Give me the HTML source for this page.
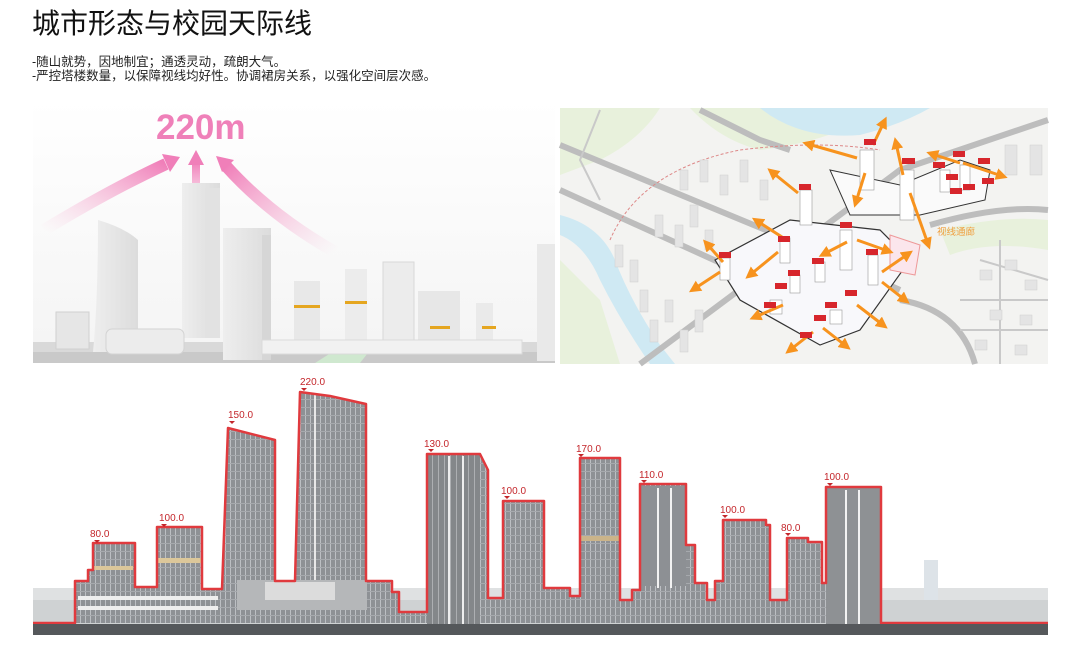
<!DOCTYPE html>
<html><head><meta charset="utf-8">
<style>
html,body{margin:0;padding:0;background:#fff;}
body{width:1080px;height:652px;overflow:hidden;position:relative;font-family:"Liberation Sans","Noto Sans CJK SC",sans-serif;}
.t{position:absolute;left:32px;top:2px;font-size:28px;color:#111;}
.s{position:absolute;left:32px;font-size:12.5px;color:#222;}
</style></head><body>
<div class="t">城市形态与校园天际线</div>
<div class="s" style="top:51px">-随山就势，因地制宜；通透灵动，疏朗大气。</div>
<div class="s" style="top:65px">-严控塔楼数量，以保障视线均好性。协调裙房关系，以强化空间层次感。</div>

<svg width="1080" height="652" style="position:absolute;left:0;top:0" xmlns="http://www.w3.org/2000/svg">
<defs>
<linearGradient id="sky" x1="0" y1="0" x2="0" y2="1"><stop offset="0" stop-color="#fff"/><stop offset="1" stop-color="#f4f4f4"/></linearGradient>
<linearGradient id="pa" x1="0" y1="1" x2="1" y2="0"><stop offset="0" stop-color="#f7b8d6" stop-opacity="0"/><stop offset="1" stop-color="#f07fb9"/></linearGradient>
<linearGradient id="pb" x1="0" y1="1" x2="0" y2="0"><stop offset="0" stop-color="#f7b8d6" stop-opacity="0"/><stop offset="1" stop-color="#f07fb9"/></linearGradient>
<linearGradient id="pc" x1="1" y1="1" x2="0" y2="0"><stop offset="0" stop-color="#f7b8d6" stop-opacity="0"/><stop offset="1" stop-color="#f07fb9"/></linearGradient>
<linearGradient id="bw" x1="0" y1="0" x2="1" y2="0"><stop offset="0" stop-color="#eeeeee"/><stop offset="1" stop-color="#dcdcdc"/></linearGradient>
<pattern id="fac" width="5" height="8" patternUnits="userSpaceOnUse"><rect width="5" height="8" fill="#8e9195"/><rect x="0" width="1" height="8" fill="#bcbfc3"/><rect y="7" width="5" height="1" fill="#a6a9ad"/></pattern>
<pattern id="fac2" width="6" height="10" patternUnits="userSpaceOnUse"><rect width="6" height="10" fill="#84878a"/><rect x="0" width="1" height="10" fill="#adafb2"/></pattern>
<marker id="ar" markerWidth="4" markerHeight="4" refX="2" refY="2" orient="auto"><path d="M0,0 L4,2 L0,4 z" fill="#f7931e"/></marker>
</defs>

<!-- top-left render -->
<rect x="33" y="100" width="522" height="263" fill="url(#sky)"/>
<rect x="33" y="342" width="522" height="21" fill="#d9d9d9"/>
<rect x="33" y="352" width="522" height="11" fill="#c9c9c9"/>
<path d="M315,363 L345,344 L375,344 L360,363 z" fill="#cfe8cf"/>
<path d="M44,230 Q110,190 166,164" stroke="url(#pa)" stroke-width="12" fill="none"/>
<path d="M162,154 L180,157 L170,172 z" fill="#f07fb9"/>
<rect x="192" y="162" width="8" height="57" fill="url(#pb)"/>
<path d="M188,165 L196,150 L204,165 z" fill="#f07fb9"/>
<path d="M335,252 Q270,215 226,166" stroke="url(#pc)" stroke-width="12" fill="none"/>
<path d="M216,156 L234,160 L222,172 z" fill="#f07fb9"/>
<text x="156" y="139" font-family="Liberation Sans,sans-serif" font-size="35" font-weight="bold" fill="#ef80b9">220m</text>
<rect x="56" y="312" width="33" height="37" fill="#e6e6e6" stroke="#d0d0d0"/>
<path d="M98,220 Q125,228 138,240 L138,352 L93,352 Q98,300 98,220z" fill="url(#bw)"/>
<rect x="182" y="183" width="38" height="155" fill="url(#bw)"/>
<rect x="205" y="188" width="15" height="150" fill="#e2e2e2"/>
<rect x="106" y="329" width="78" height="25" rx="6" fill="#ececec" stroke="#d3d3d3"/>
<rect x="223" y="228" width="48" height="132" fill="url(#bw)"/>
<rect x="262" y="235" width="9" height="125" fill="#d6d6d6"/>
<rect x="294" y="281" width="26" height="61" fill="#e8e8e8"/>
<rect x="294" y="305" width="26" height="3" fill="#e5a620"/>
<rect x="345" y="269" width="22" height="75" fill="#ececec"/>
<rect x="345" y="301" width="22" height="3" fill="#e5a620"/>
<rect x="383" y="262" width="31" height="80" fill="#ececec" stroke="#d8d8d8"/>
<rect x="418" y="291" width="42" height="51" fill="#e7e7e7"/>
<rect x="430" y="326" width="20" height="3" fill="#e5a620"/>
<rect x="476" y="303" width="17" height="41" fill="#eaeaea"/>
<rect x="482" y="326" width="14" height="3" fill="#e5a620"/>
<rect x="537" y="244" width="18" height="117" fill="#e9e9e9"/>
<rect x="262" y="340" width="260" height="14" fill="#f1f1f1" stroke="#dadada"/>

<!-- top-right map -->
<rect x="560" y="108" width="488" height="256" fill="#f3f3f1"/>
<path d="M560,108 L660,108 Q640,140 600,160 L560,175z" fill="#e8f1dc"/>
<path d="M690,108 L880,108 Q840,140 760,150 Q720,140 690,108z" fill="#e8f1dc"/>
<path d="M760,108 L930,108 Q900,125 860,135 Q800,140 760,108z" fill="#cfe9f3"/>
<path d="M560,215 Q600,225 615,260 Q630,300 660,345 L675,364 L650,364 Q620,320 600,280 Q585,245 560,235z" fill="#cfe9f3"/>
<path d="M560,260 L600,300 L620,364 L560,364z" fill="#e8f1dc"/>
<path d="M940,230 Q1000,215 1048,220 L1048,250 Q990,240 950,255z" fill="#e8f1dc"/>
<g stroke="#bdbdbd" stroke-width="6" fill="none">
<path d="M560,145 L790,240 L900,290"/>
<path d="M560,190 L780,290"/>
<path d="M640,364 L900,170 L1048,120"/>
<path d="M700,110 L760,140 L790,150"/>
<path d="M900,300 Q960,310 975,364"/>
<path d="M930,225 Q1000,205 1048,210"/>
</g>
<g stroke="#c9c9c9" stroke-width="2" fill="none">
<path d="M600,110 L580,160 L600,200"/><path d="M980,260 L1048,280"/><path d="M1000,240 L1000,364"/><path d="M960,300 L1048,300"/><path d="M960,330 L1048,330"/>
</g>
<path d="M610,240 Q640,170 740,150 Q820,140 880,150" stroke="#d88" stroke-width="1" stroke-dasharray="3,2" fill="none"/>
<g fill="#e4e4e4" stroke="#cfcfcf" stroke-width="0.5">
<rect x="680" y="170" width="8" height="20"/><rect x="700" y="160" width="8" height="22"/><rect x="720" y="175" width="8" height="20"/><rect x="740" y="160" width="8" height="22"/><rect x="760" y="180" width="8" height="20"/>
<rect x="655" y="215" width="8" height="22"/><rect x="675" y="225" width="8" height="22"/><rect x="690" y="205" width="8" height="22"/><rect x="705" y="230" width="8" height="20"/>
<rect x="615" y="245" width="8" height="22"/><rect x="630" y="260" width="8" height="22"/><rect x="640" y="290" width="8" height="22"/><rect x="650" y="320" width="8" height="22"/><rect x="665" y="300" width="8" height="22"/><rect x="680" y="330" width="8" height="22"/><rect x="695" y="310" width="8" height="22"/>
<rect x="980" y="270" width="12" height="10"/><rect x="1005" y="260" width="12" height="10"/><rect x="1025" y="280" width="12" height="10"/><rect x="990" y="310" width="12" height="10"/><rect x="1020" y="315" width="12" height="10"/><rect x="975" y="340" width="12" height="10"/><rect x="1015" y="345" width="12" height="10"/>
<rect x="1005" y="145" width="12" height="30"/><rect x="1030" y="145" width="12" height="30"/>
</g>
<path d="M715,260 L790,220 L880,230 L910,260 L860,330 L820,345 L740,300z" fill="#f8f8fb" stroke="#333" stroke-width="1.2"/>
<path d="M830,170 L900,185 L960,160 L990,170 L985,200 L920,215 L850,215z" fill="#fafafa" stroke="#333" stroke-width="1"/>
<path d="M890,235 L920,245 L915,275 L890,270z" fill="#fbe6ec" stroke="#e99" stroke-width="1"/>
<g fill="#fff" stroke="#999" stroke-width="0.6">
<rect x="860" y="150" width="14" height="40"/><rect x="900" y="170" width="14" height="50"/><rect x="800" y="190" width="12" height="35"/><rect x="780" y="238" width="10" height="25"/><rect x="720" y="258" width="10" height="22"/>
<rect x="840" y="230" width="12" height="40"/><rect x="868" y="255" width="10" height="30"/><rect x="815" y="262" width="10" height="20"/><rect x="790" y="275" width="10" height="18"/>
<rect x="940" y="170" width="10" height="22"/><rect x="960" y="165" width="10" height="25"/><rect x="770" y="300" width="12" height="14"/><rect x="830" y="310" width="12" height="14"/>
</g>
<g stroke="#f7931e" stroke-width="3" fill="none" marker-end="url(#ar)">
<path d="M857,158 L808,144"/><path d="M865,173 L856,202"/><path d="M873,145 L884,122"/><path d="M798,193 L772,172"/><path d="M782,237 L757,221"/><path d="M778,252 L750,275"/><path d="M723,262 L707,244"/><path d="M720,272 L694,289"/><path d="M903,175 L896,143"/><path d="M910,193 L928,244"/><path d="M960,163 L932,154"/><path d="M963,163 L1002,176"/><path d="M847,242 L824,254"/><path d="M857,240 L888,251"/><path d="M882,272 L908,254"/><path d="M882,282 L905,300"/><path d="M783,305 L755,317"/><path d="M857,305 L883,325"/><path d="M823,328 L846,346"/><path d="M813,332 L790,350"/>
</g>
<g fill="#d7262c">
<rect x="864" y="139" width="12" height="6"/><rect x="799" y="184" width="12" height="6"/><rect x="902" y="158" width="13" height="6"/><rect x="840" y="222" width="12" height="6"/><rect x="778" y="236" width="12" height="6"/><rect x="719" y="252" width="12" height="6"/><rect x="866" y="249" width="12" height="6"/><rect x="812" y="258" width="12" height="6"/><rect x="788" y="270" width="12" height="6"/><rect x="775" y="283" width="12" height="6"/><rect x="764" y="302" width="12" height="6"/><rect x="845" y="290" width="12" height="6"/><rect x="825" y="302" width="12" height="6"/><rect x="814" y="315" width="12" height="6"/><rect x="800" y="332" width="12" height="6"/><rect x="953" y="151" width="12" height="6"/><rect x="933" y="162" width="12" height="6"/><rect x="978" y="158" width="12" height="6"/><rect x="963" y="184" width="12" height="6"/><rect x="950" y="188" width="12" height="6"/><rect x="946" y="174" width="12" height="6"/><rect x="982" y="178" width="12" height="6"/>
</g>
<text x="937" y="235" font-size="9.5" fill="#f0a040" font-family="Liberation Sans,'Noto Sans CJK SC',sans-serif">视线通廊</text>

<!-- bottom elevation -->
<rect x="33" y="588" width="1015" height="36" fill="#dfe1e2"/>
<rect x="33" y="600" width="1015" height="24" fill="#cfd2d3"/>
<rect x="924" y="560" width="14" height="40" fill="#dde3e8"/>
<path d="M75,623 L75,581 L88,581 L88,570 L93,570 L93,543 L135,543 L135,587 L157,587 L157,527 L202,527 L202,589 L222,589 L228,428 L275,440 L275,581 L295,581 L300,392 L330,396 L366,404 L366,581 L392,581 L392,592 L399,592 L399,612 L427,612 L427,454 L480,454 L488,470 L488,598 L503,598 L503,501 L544,501 L544,588 L570,588 L570,596 L580,596 L580,458 L620,458 L620,600 L632,600 L632,590 L640,590 L640,484 L686,484 L686,545 L695,545 L695,583 L707,583 L707,600 L715,600 L715,581 L723,581 L723,520 L766,520 L766,525 L770,525 L770,600 L787,600 L787,583 L787,538 L808,538 L808,542 L822,542 L822,583 L826,583 L826,487 L881,487 L881,623 z" fill="url(#fac)"/>
<rect x="427" y="454" width="53" height="170" fill="url(#fac2)"/>
<rect x="448" y="456" width="2" height="168" fill="#eee"/><rect x="462" y="456" width="2" height="168" fill="#eee"/>
<rect x="640" y="486" width="46" height="100" fill="#8d9094"/><rect x="657" y="488" width="2" height="100" fill="#f2f2f2"/><rect x="670" y="488" width="2" height="100" fill="#f2f2f2"/>
<rect x="826" y="488" width="55" height="136" fill="#8e9194"/><rect x="845" y="490" width="2" height="134" fill="#f2f2f2"/><rect x="858" y="490" width="2" height="134" fill="#f2f2f2"/>
<rect x="314" y="395" width="2" height="190" fill="#e8e8e8"/>
<rect x="237" y="580" width="130" height="30" fill="#b5b7b9"/><rect x="265" y="582" width="70" height="18" fill="#dcdcdc"/>
<rect x="78" y="596" width="140" height="4" fill="#eee"/><rect x="78" y="606" width="140" height="4" fill="#eee"/>
<rect x="93" y="566" width="40" height="4" fill="#dcc79a"/><rect x="157" y="558" width="45" height="5" fill="#dcc79a"/>
<rect x="580" y="536" width="40" height="5" fill="#cbb48a"/>
<path d="M33,623 L75,623 L75,581 L88,581 L88,570 L93,570 L93,543 L135,543 L135,587 L157,587 L157,527 L202,527 L202,589 L222,589 L228,428 L275,440 L275,581 L295,581 L300,392 L330,396 L366,404 L366,581 L392,581 L392,592 L399,592 L399,612 L427,612 L427,454 L480,454 L488,470 L488,598 L503,598 L503,501 L544,501 L544,588 L570,588 L570,596 L580,596 L580,458 L620,458 L620,600 L632,600 L632,590 L640,590 L640,484 L686,484 L686,545 L695,545 L695,583 L707,583 L707,600 L715,600 L715,581 L723,581 L723,520 L766,520 L766,525 L770,525 L770,600 L787,600 L787,538 L808,538 L808,542 L822,542 L822,583 L826,583 L826,487 L881,487 L881,623 L1048,623" fill="none" stroke="#e03a3e" stroke-width="2.5" stroke-linejoin="round"/>
<rect x="33" y="624" width="1015" height="11" fill="#55585b"/>
<g fill="#c4262b" font-size="10" font-family="Liberation Sans,sans-serif">
<text x="90" y="537">80.0</text><path d="M94,540 l6,0 l-3,3z"/>
<text x="159" y="521">100.0</text><path d="M161,524 l6,0 l-3,3z"/>
<text x="228" y="418">150.0</text><path d="M229,421 l6,0 l-3,3z"/>
<text x="300" y="385">220.0</text><path d="M301,388 l6,0 l-3,3z"/>
<text x="424" y="447">130.0</text><path d="M428,449 l6,0 l-3,3z"/>
<text x="501" y="494">100.0</text><path d="M504,496 l6,0 l-3,3z"/>
<text x="576" y="452">170.0</text><path d="M578,454 l6,0 l-3,3z"/>
<text x="639" y="478">110.0</text><path d="M641,480 l6,0 l-3,3z"/>
<text x="720" y="513">100.0</text><path d="M722,515 l6,0 l-3,3z"/>
<text x="781" y="531">80.0</text><path d="M785,533 l6,0 l-3,3z"/>
<text x="824" y="480">100.0</text><path d="M827,483 l6,0 l-3,3z"/>
</g>
</svg>
</body></html>
